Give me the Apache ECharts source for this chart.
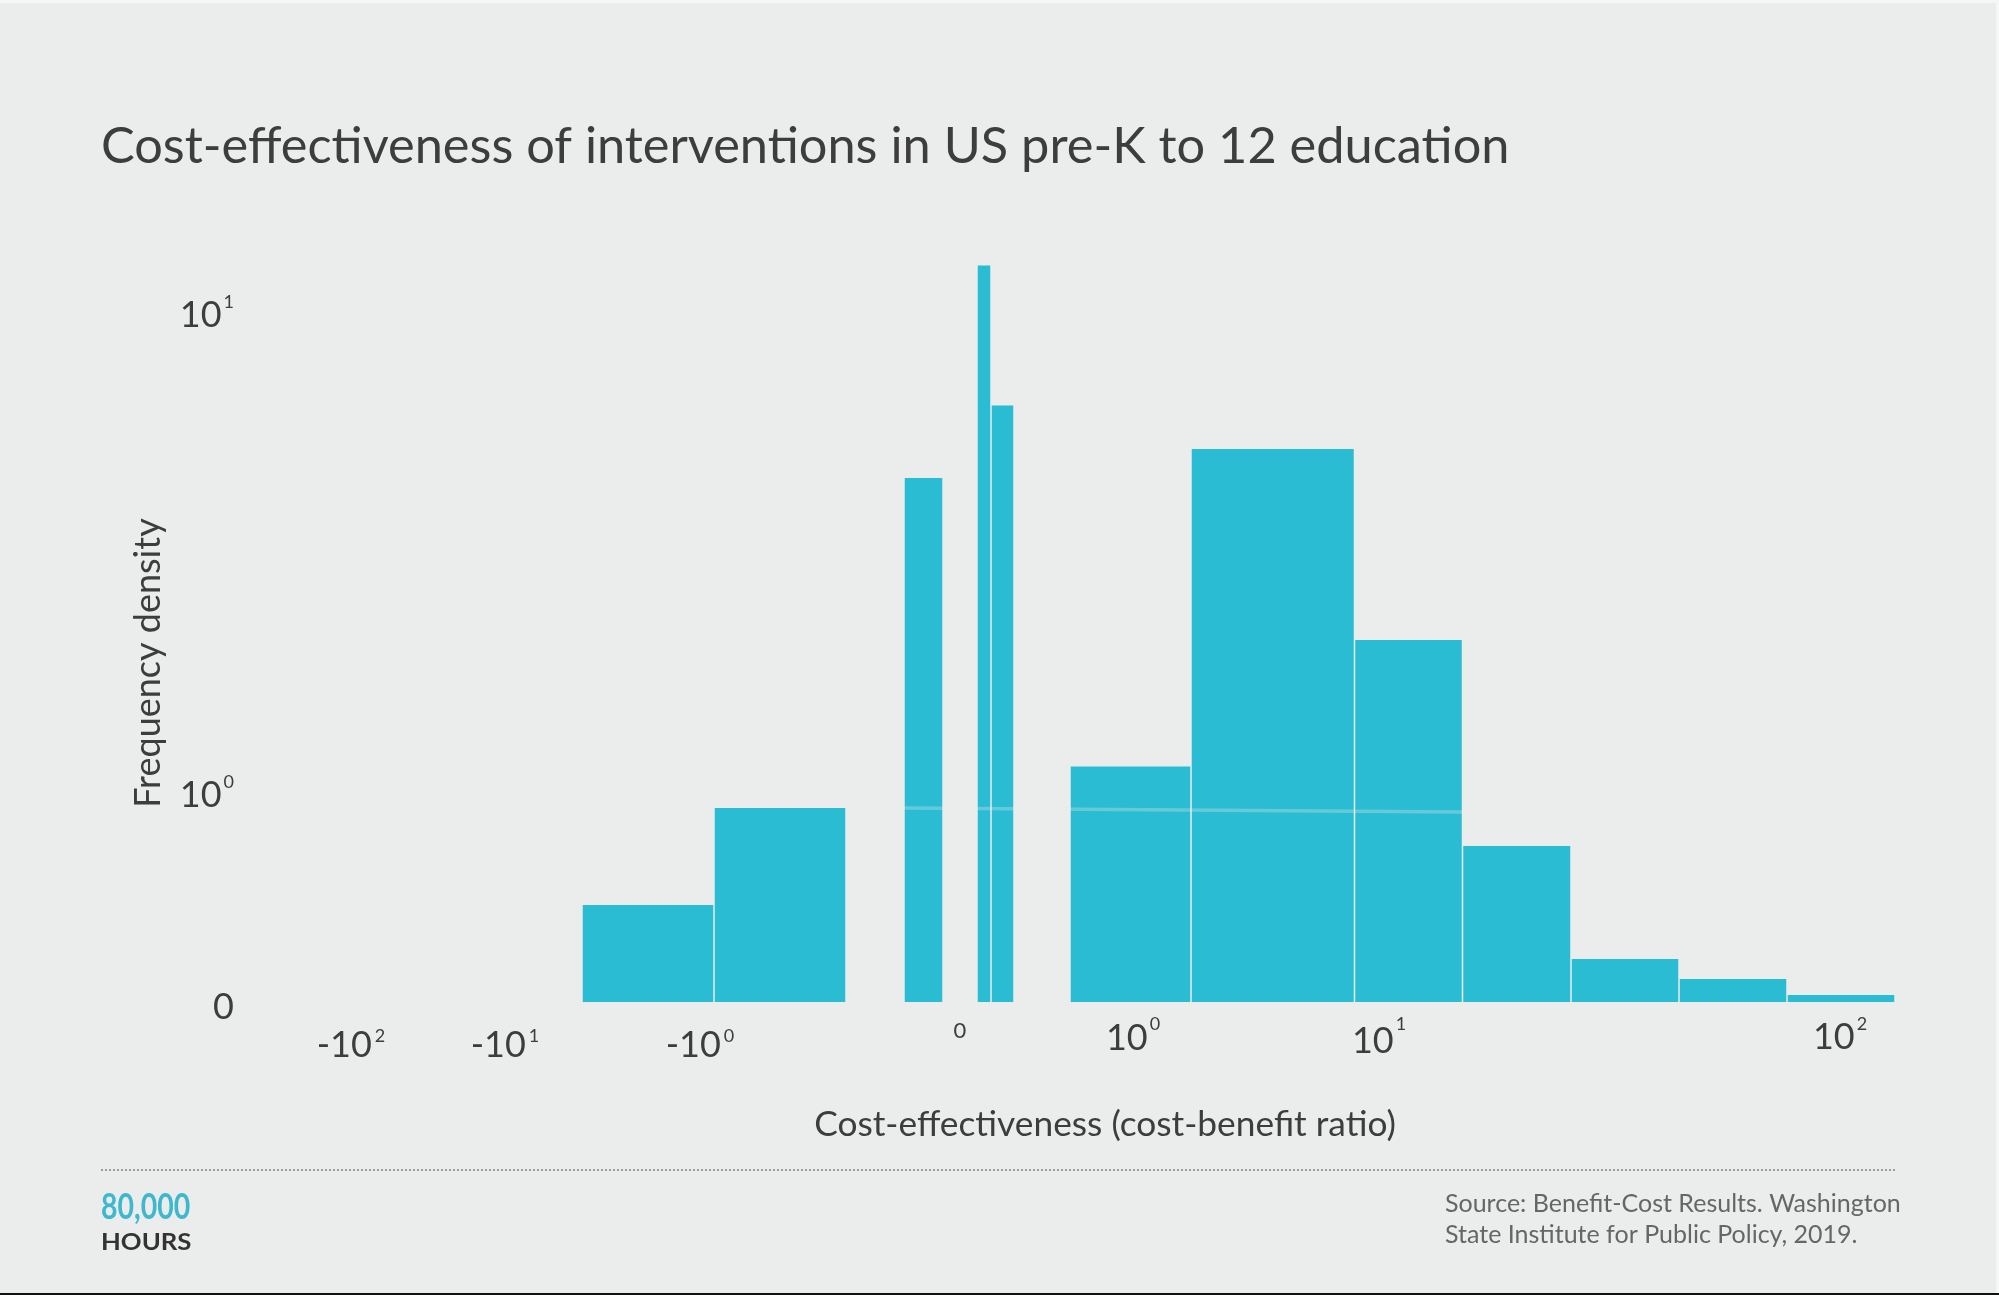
<!DOCTYPE html>
<html>
<head>
<meta charset="utf-8">
<title>Cost-effectiveness of interventions</title>
<script src="https://cdn.jsdelivr.net/npm/echarts@6/dist/echarts.min.js"></script>
<style>
  html, body { margin: 0; padding: 0; background: #ebecec; }
  #chart { width: 1999px; height: 1295px; }
</style>
</head>
<body>
<div id="chart"></div>
<script>
// bins, x in axis units (the source axis is not a true log scale)
var binStart = [-3.78, -2.46, -0.56, 0.17, 0.31, 1.10, 2.31, 3.945, 5.025, 6.11, 7.19, 8.27];
var binEnd = [-2.46, -1.14, -0.17, 0.31, 0.54, 2.31, 3.945, 5.025, 6.11, 7.19, 8.27, 9.35];
var density = [0.5, 1.0, 4.87, 13.5, 6.9, 1.22, 5.6, 2.24, 0.804, 0.222, 0.119, 0.036];

// faint line through the bars, near density 1
var refLineX = [-0.56, 5.025];
var refLineY = [1.0, 0.98];

var xTickValues = [-6.09, -4.55, -2.6, 0, 1.73, 4.19, 8.8];
var xTickBase = ['-10', '-10', '-10', '0', '10', '10', '10'];
var xTickSup = ['2', '1', '0', '', '0', '1', '2'];
var xTickShift = ['d9', 'd9', 'd9', 'zero', 'd1', 'd4', 'd0'];

var yTickDensity = [0, 1, 10];
var yTickBase = ['0', '10', '10'];
var yTickSup = ['', '0', '1'];

var titleText = 'Cost-effectiveness of interventions in US pre-K to 12 education';
var xName = 'Cost-effectiveness (cost-benefit ratio)';
var yName = 'Frequency density';
var sourceLines = ['Source: Benefit-Cost Results. Washington', 'State Institute for Public Policy, 2019.'];

var FONT = 'Lato';
var TEXT = '#3d3d3d';
var BAR = '#2abcd3';
var BG = '#ebecec';

// linear up to 1, log above
function symlog(v) {
    return v <= 1 ? v : 1 + Math.log10(v) * 2.474;
}

function tickLabel(base, sup, style, supStyle) {
    var s = '{' + style + '|' + base + '}';
    if (sup !== '') s += '{' + supStyle + '|' + sup + '}';
    return s;
}

var xLabels = {};
xTickValues.forEach(function (v, i) {
    xLabels[v] = tickLabel(xTickBase[i], xTickSup[i], xTickShift[i], xTickShift[i] === 'd9' ? 'supLow' : 'sup');
});
var yLabels = {};
yTickDensity.forEach(function (v, i) {
    yLabels[symlog(v)] = tickLabel(yTickBase[i], yTickSup[i], i === 0 ? 'low' : 'high', 'sup');
});

var chart = echarts.init(document.getElementById('chart'));

function renderBin(params, api) {
    var start = api.coord([api.value(0), api.value(2)]);
    var end = api.coord([api.value(1), 0]);
    // small gap between neighbouring bins
    return {
        type: 'rect',
        shape: { x: start[0] + 0.75, y: start[1], width: end[0] - start[0] - 1.5, height: end[1] - start[1] },
        style: { fill: BAR }
    };
}

var option = {
    backgroundColor: BG,
    animation: false,
    title: {
        text: titleText,
        left: 96,
        top: 116,
        textStyle: { fontFamily: FONT, fontSize: 50.5, fontWeight: 400, color: TEXT }
    },
    grid: { left: 260, width: 1640, top: 226, height: 776 },
    xAxis: {
        type: 'value',
        min: -7,
        max: 9.4,
        name: xName,
        nameLocation: 'middle',
        nameGap: 105,
        nameTextStyle: { fontFamily: FONT, fontSize: 35.3, color: TEXT, padding: [0, 0, 0, 50] },
        axisLine: { show: false },
        axisTick: { show: false },
        splitLine: { show: false },
        axisLabel: {
            customValues: xTickValues,
            margin: 13,
            verticalAlign: 'top',
            hideOverlap: false,
            formatter: function (v) { return xLabels[v]; },
            rich: {
                d0: { fontFamily: FONT, fontSize: 36, fontWeight: 400, color: TEXT, padding: [4, 0, 0, 0] },
                d1: { fontFamily: FONT, fontSize: 36, fontWeight: 400, color: TEXT, padding: [5, 0, 0, 0] },
                d4: { fontFamily: FONT, fontSize: 36, fontWeight: 400, color: TEXT, padding: [8, 0, 0, 0] },
                d9: { fontFamily: FONT, fontSize: 36, fontWeight: 400, color: TEXT, padding: [12, 0, 0, 0] },
                zero: { fontFamily: FONT, fontSize: 22, fontWeight: 400, color: TEXT, padding: [5, 0, 0, 0] },
                sup: { fontFamily: FONT, fontSize: 18, fontWeight: 400, color: TEXT, verticalAlign: 'top', padding: [0, 0, 0, 2] },
                supLow: { fontFamily: FONT, fontSize: 18, fontWeight: 400, color: TEXT, verticalAlign: 'top', padding: [12, 0, 0, 3] }
            }
        }
    },
    yAxis: {
        type: 'value',
        min: 0,
        max: 4,
        name: yName,
        nameLocation: 'middle',
        nameGap: 94,
        nameRotate: 90,
        nameTextStyle: { fontFamily: FONT, fontSize: 36, color: TEXT, padding: [0, 98, 0, 0] },
        axisLine: { show: false },
        axisTick: { show: false },
        splitLine: { show: false },
        axisLabel: {
            customValues: yTickDensity.map(symlog),
            margin: 26,
            align: 'right',
            hideOverlap: false,
            formatter: function (v) { return yLabels[v]; },
            rich: {
                low: { fontFamily: FONT, fontSize: 36, fontWeight: 400, color: TEXT, padding: [10, 0, 0, 0] },
                high: { fontFamily: FONT, fontSize: 36, fontWeight: 400, color: TEXT, padding: [4, 0, 30, 0] },
                sup: { fontFamily: FONT, fontSize: 18, fontWeight: 400, color: TEXT, verticalAlign: 'top', padding: [0, 0, 0, 2] }
            }
        }
    },
    series: [
        {
            type: 'custom',
            renderItem: renderBin,
            encode: { x: [0, 1], y: 2 },
            data: density.map(function (d, i) { return [binStart[i], binEnd[i], symlog(d)]; })
        },
        {
            type: 'line',
            data: refLineX.map(function (x, i) { return [x, symlog(refLineY[i])]; }),
            symbol: 'none',
            silent: true,
            lineStyle: { color: 'rgba(235,236,236,0.3)', width: 3.5 }
        }
    ],
    graphic: [
        { type: 'line', shape: { x1: 101, y1: 1170, x2: 1895, y2: 1170 }, style: { stroke: '#9a9a9a', lineWidth: 2, lineDash: [2, 2] } },
        { type: 'text', x: 101, y: 1189, scaleX: 0.77, style: { text: '80,000', font: '700 37px ' + FONT, fill: '#3fb8cf' } },
        { type: 'text', x: 101, y: 1232, scaleX: 1.17, style: { text: 'HOURS', font: '700 22px ' + FONT, fill: '#333333' } },
        { type: 'text', x: 1445, y: 1191, style: { text: sourceLines[0], font: '400 25px ' + FONT, fill: '#666666' } },
        { type: 'text', x: 1445, y: 1222, style: { text: sourceLines[1], font: '400 25px ' + FONT, fill: '#666666' } },
        { type: 'rect', shape: { x: 0, y: 0, width: 1999, height: 3 }, style: { fill: '#f5f6f5' } },
        { type: 'rect', shape: { x: 1996, y: 0, width: 3, height: 1293 }, style: { fill: '#f5f6f5' } },
        { type: 'rect', shape: { x: 0, y: 1293, width: 1999, height: 2 }, style: { fill: '#111111' } }
    ]
};

chart.setOption(option);
</script>
</body>
</html>
